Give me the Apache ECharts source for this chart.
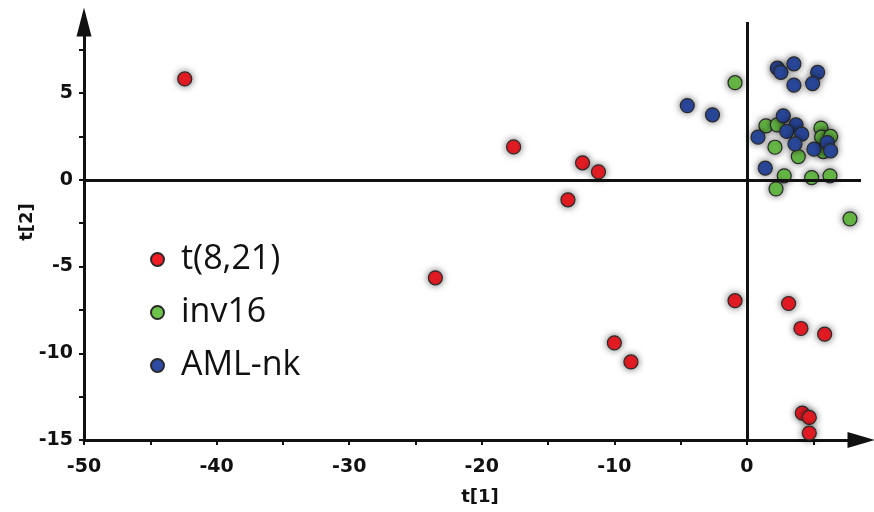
<!DOCTYPE html>
<html>
<head>
<meta charset="utf-8">
<script src="https://cdn.jsdelivr.net/npm/echarts@6/dist/echarts.min.js"></script>
<style>html,body{margin:0;padding:0;background:#fff}#c{width:874px;height:512px}</style>
</head>
<body>
<div id="c"></div>
<script>
// Series data [t1, t2]
var t821 = [
  [-42.4, 5.82], [-17.6, 1.9], [-12.4, 0.98], [-11.2, 0.46], [-13.5, -1.15],
  [-23.5, -5.65], [-0.9, -6.97], [-10.0, -9.4], [-8.75, -10.5], [3.14, -7.13],
  [4.07, -8.57], [5.86, -8.9], [4.17, -13.45], [4.7, -13.7], [4.7, -14.6]
];
var inv16 = [
  [-0.9, 5.6], [1.43, 3.11], [2.29, 3.17], [2.11, 1.88], [3.87, 1.34],
  [5.58, 2.98], [5.63, 2.46], [6.31, 2.5], [5.76, 1.63], [2.81, 0.23],
  [4.88, 0.13], [6.26, 0.23], [2.19, -0.52], [7.77, -2.25]
];
var amlnk = [
  [2.29, 6.44], [2.56, 6.2], [3.54, 6.69], [5.33, 6.2], [3.54, 5.46],
  [4.95, 5.55], [-4.5, 4.28], [-2.6, 3.75], [2.74, 3.69], [3.7, 3.17],
  [3.0, 2.79], [4.13, 2.63], [0.83, 2.46], [3.62, 2.07], [5.05, 1.77],
  [6.06, 2.15], [6.31, 1.67], [1.38, 0.67]
];
var seriesNames = ['t(8,21)', 'inv16', 'AML-nk'];
var xTicks = [-50, -45, -40, -35, -30, -25, -20, -15, -10, -5, 0, 5];
var xLabels = [-50, -40, -30, -20, -10, 0];
var yTicks = [-15, -12.5, -10, -7.5, -5, -2.5, 0, 2.5, 5, 7.5];
var yLabels = [-15, -10, -5, 0, 5];
var xName = 't[1]';
var yName = 't[2]';

var colors = ['#f01d25', '#6cc24a', '#2c4ba2'];
var tickFont = {fontFamily: 'DejaVu Sans', fontWeight: 'bold', fontSize: 19, color: '#111'};

function mkSeries(name, data, color, withLines) {
  var s = {
    name: name,
    type: 'scatter',
    data: data,
    symbol: 'circle',
    symbolSize: 14,
    itemStyle: {
      color: color,
      opacity: 1,
      borderColor: '#2a2a2a',
      borderWidth: 1.2,
      shadowBlur: 7,
      shadowColor: 'rgba(0,0,0,0.55)'
    },
    emphasis: {disabled: true}
  };
  if (withLines) {
    s.markLine = {
      silent: true,
      symbol: ['none', 'none'],
      label: {show: false},
      lineStyle: {color: '#111', width: 3, type: 'solid', opacity: 1},
      data: [{xAxis: 0}, {yAxis: 0}],
      animation: false
    };
  }
  return s;
}

var chart = echarts.init(document.getElementById('c'), null, {renderer: 'canvas'});
chart.setOption({
  animation: false,
  backgroundColor: '#fff',
  grid: {left: 84, right: 13, top: 22, bottom: 72, containLabel: false},
  legend: {
    orient: 'vertical',
    left: 145,
    top: 236,
    itemWidth: 13,
    itemHeight: 13,
    itemGap: 16,
    icon: 'circle',
    data: seriesNames,
    itemStyle: {shadowBlur: 0},
    textStyle: {fontFamily: 'Open Sans', fontSize: 34, color: '#111', lineHeight: 37, padding: [0, 0, 0, 12]}
  },
  xAxis: {
    type: 'value',
    min: -50,
    max: 8.6,
    splitLine: {show: false},
    axisLine: {show: true, onZero: false, lineStyle: {color: '#111', width: 3},
      symbol: ['none', 'triangle'], symbolSize: [16, 27]},
    axisTick: {show: true, length: 5, lineStyle: {color: '#111', width: 2}, customValues: xTicks},
    axisLabel: Object.assign({margin: 18, customValues: xLabels}, tickFont),
    name: xName,
    nameLocation: 'middle',
    nameGap: 48,
    nameMoveOverlap: false,
    nameTextStyle: {fontFamily: 'DejaVu Sans', fontWeight: 'bold', fontSize: 18, color: '#111', padding: [0, 0, 0, 15]}
  },
  yAxis: {
    type: 'value',
    min: -15,
    max: 9.1,
    splitLine: {show: false},
    axisLine: {show: true, onZero: false, lineStyle: {color: '#111', width: 3},
      symbol: ['none', 'triangle'], symbolSize: [15, 29]},
    axisTick: {show: true, length: 5, lineStyle: {color: '#111', width: 2}, customValues: yTicks},
    axisLabel: Object.assign({margin: 11, customValues: yLabels}, tickFont),
    name: yName,
    nameLocation: 'middle',
    nameGap: 48,
    nameMoveOverlap: false,
    nameRotate: 90,
    nameTextStyle: {fontFamily: 'DejaVu Sans', fontWeight: 'bold', fontSize: 18, color: '#111', padding: [0, 0, 0, 18]}
  },
  series: [
    mkSeries(seriesNames[0], t821, colors[0], true),
    mkSeries(seriesNames[1], inv16, colors[1], false),
    mkSeries(seriesNames[2], amlnk, colors[2], false)
  ]
});
</script>
</body>
</html>
